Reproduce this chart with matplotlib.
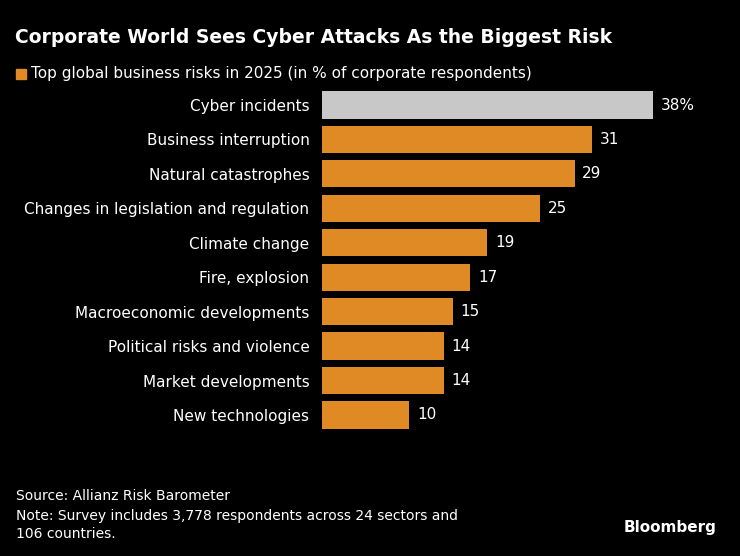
import matplotlib
matplotlib.use("Agg")
import matplotlib.pyplot as plt
from matplotlib.patches import Rectangle

categories = ["Cyber incidents", "Business interruption", "Natural catastrophes",
              "Changes in legislation and regulation", "Climate change", "Fire, explosion",
              "Macroeconomic developments", "Political risks and violence",
              "Market developments", "New technologies"]
values = [38, 31, 29, 25, 19, 17, 15, 14, 14, 10]
value_labels = ["38%", "31", "29", "25", "19", "17", "15", "14", "14", "10"]

fig = plt.figure(figsize=(7.4, 5.56), dpi=100, facecolor="black")
ax = fig.add_axes([0.435, 0.2227, 0.565, 0.6194])
ax.set_facecolor("black")
colors = ["#c8c8c8"] + ["#e08a25"] * (len(values) - 1)
ys = list(range(len(values)))
ax.barh(ys, values, height=0.79, color=colors)
ax.set_xlim(0, 48)
ax.set_ylim(len(values) - 0.5, -0.5)
for y, v, l in zip(ys, values, value_labels):
    ax.text(v + 0.9, y, l, color="white", va="center", ha="left", fontsize=11)
ax.set_yticks(ys)
ax.set_yticklabels(categories, color="white", fontsize=11)
ax.tick_params(axis="y", length=0, pad=9)
ax.set_xticks([])
for s in ax.spines.values():
    s.set_visible(False)

fig.text(0.02, 0.932, "Corporate World Sees Cyber Attacks As the Biggest Risk",
         color="white", fontsize=13.5, fontweight="bold", va="center")
fig.patches.append(Rectangle((0.022, 0.858), 0.013, 0.018, transform=fig.transFigure,
                             color="#e08a25", figure=fig))
fig.text(0.042, 0.867, "Top global business risks in 2025 (in % of corporate respondents)",
         color="white", fontsize=11, va="center")
fig.text(0.022, 0.108, "Source: Allianz Risk Barometer", color="white", fontsize=10, va="center")
fig.text(0.022, 0.072, "Note: Survey includes 3,778 respondents across 24 sectors and",
         color="white", fontsize=10, va="center")
fig.text(0.022, 0.040, "106 countries.", color="white", fontsize=10, va="center")
fig.text(0.968, 0.052, "Bloomberg", color="white", fontsize=11, fontweight="bold",
         ha="right", va="center")
fig.savefig("out.png", dpi=100, facecolor="black")
